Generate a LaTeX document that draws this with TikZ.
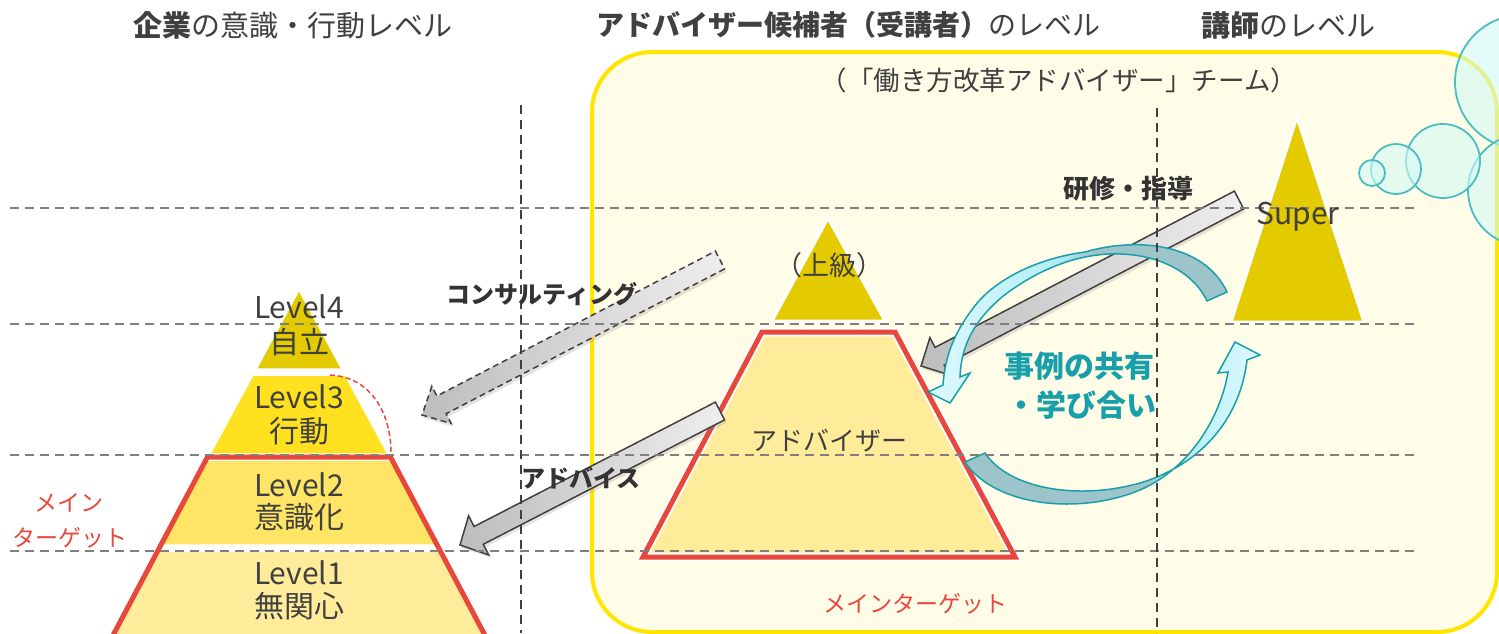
\documentclass[tikz,border=0pt]{standalone}
\usepackage{fontspec}
\setmainfont{Noto Sans CJK JP}
\usetikzlibrary{calc,shadows}

\definecolor{ink}{HTML}{404040}
\definecolor{inkbold}{HTML}{333333}
\definecolor{guidegray}{HTML}{7F7F7F}
\definecolor{axisgray}{HTML}{404040}
\definecolor{teamfill}{HTML}{FFFCE8}
\definecolor{teamline}{HTML}{FFE500}
\definecolor{lvA}{HTML}{E3CB00}
\definecolor{lvB}{HTML}{FFE11F}
\definecolor{lvC}{HTML}{FFE566}
\definecolor{lvD}{HTML}{FFEC9A}
\definecolor{target}{HTML}{E8473B}
\definecolor{teal}{HTML}{18A0AA}
\definecolor{cyanlight}{HTML}{DDF9FE}
\definecolor{cyanmid}{HTML}{B5EDF7}
\definecolor{tealgray}{HTML}{9DC4CA}
\definecolor{bubbleline}{HTML}{4BBEC1}
\definecolor{bubblefill}{HTML}{D2FAF4}
\definecolor{arrowdark}{HTML}{BDBDBD}
\definecolor{arrowlight}{HTML}{EEEEEE}

% ribbon shadings for the two curved arrows (tail: grey-teal, head: light cyan)
\pgfdeclarehorizontalshading{loopupper}{100bp}{color(0bp)=(cyanlight); color(25bp)=(cyanlight); color(46bp)=(cyanmid); color(53bp)=(tealgray); color(100bp)=(tealgray)}
\pgfdeclarehorizontalshading{looplower}{100bp}{color(0bp)=(tealgray); color(56bp)=(tealgray); color(61bp)=(cyanmid); color(75bp)=(cyanlight); color(100bp)=(cyanlight)}

\tikzset{
  hguide/.style={draw=guidegray, line width=1.8pt, dash pattern=on 9pt off 6pt},
  vguide/.style={draw=axisgray, line width=1.6pt, dash pattern=on 9pt off 6pt},
  band/.style={fill=#1, draw=white, line width=1.5pt},
  redframe/.style={draw=target, line width=5pt, line join=miter},
  grayarrow/.style={left color=arrowdark, right color=arrowlight, draw=ink,
    line width=1.5pt, line join=miter,
    drop shadow={shadow xshift=2pt, shadow yshift=-3pt, opacity=0.22}},
  ribbon/.style={shading=#1, draw=teal, line width=1.5pt, line join=miter},
  bubble/.style={draw=bubbleline, line width=1.8pt, fill=bubblefill, fill opacity=0.6},
  headtxt/.style={text=ink, inner sep=0pt, font=\fontsize{29}{31}\selectfont},
  teamtxt/.style={text=ink, inner sep=0pt, font=\fontsize{26.5}{28}\selectfont},
  lvltxt/.style={text=ink, inner sep=0pt, font=\fontsize{30}{32}\selectfont},
  midtxt/.style={text=ink, inner sep=0pt, font=\fontsize{26}{28}\selectfont},
  redtxt/.style={text=target, inner sep=0pt, font=\fontsize{23}{25}\selectfont},
  actiontxt/.style={text=inkbold, inner sep=0pt, font=\fontsize{24}{26}\selectfont\bfseries},
  tealtxt/.style={text=teal, inner sep=0pt, font=\fontsize{30}{32}\selectfont\bfseries},
}

% straight block arrow: style, tail, tip, half shaft width, half head width, head length
\newcommand\blockarrow[6]{%
  \coordinate (hb) at ($(#3)!#6!(#2)$);
  \path[#1] ($(#2)!#4!90:(#3)$) -- ($(hb)!#4!90:(#3)$) -- ($(hb)!#5!90:(#3)$) -- (#3)
    -- ($(hb)!#5!-90:(#3)$) -- ($(hb)!#4!-90:(#3)$) -- ($(#2)!#4!-90:(#3)$) -- cycle;
}

\begin{document}
\begin{tikzpicture}[x=1pt,y=-1pt]
\useasboundingbox (0,0) rectangle (1499,633);
\fill[white] (0,0) rectangle (1499,633);

% team frame
\draw[fill=teamfill, draw=teamline, line width=4pt, rounded corners=60pt]
  (592,52) rectangle (1497,632);

% bubbles
\draw[bubble] (1522,82) circle[radius=67];
\draw[bubble] (1524,190) circle[radius=56];
\draw[bubble] (1443,161) circle[radius=37];
\draw[bubble] (1396,169) circle[radius=25];
\draw[bubble] (1372,173) circle[radius=13];

% company pyramid
\path[band=lvA] (299,290) -- (256.2,369) -- (341.8,369) -- cycle;
\path[band=lvB] (252.9,375) -- (345.1,375) -- (387.9,454) -- (210.1,454) -- cycle;
\path[band=lvC] (206.9,460) -- (391.1,460) -- (437.2,545) -- (160.8,545) -- cycle;
\path[band=lvD] (157.5,551) -- (440.5,551) -- (488.7,640) -- (109.3,640) -- cycle;
\draw[redframe] (207.5,457) -- (390.5,457) -- (488,641) -- (110,641) -- cycle;
\draw[target, line width=1.5pt, dash pattern=on 5pt off 3pt]
  (330,375) .. controls (372,377) and (392,415) .. (391,456);

% adviser pyramid
\path[band=lvA, line width=3pt] (828,218) -- (885,321) -- (772,321) -- cycle;
\path[fill=lvD, draw=white, line width=9pt, line join=miter]
  (762,332) -- (895,332) -- (1015,557) -- (643,557) -- cycle;
\draw[redframe] (762,332) -- (895,332) -- (1015,557) -- (643,557) -- cycle;

% lecturer pyramid
\path[band=lvA, line width=3pt] (1297,117) -- (1364,322) -- (1231,322) -- cycle;

% straight arrows
\coordinate (consultTail) at (720,260);
\coordinate (consultTip) at (422,415);
\coordinate (adviceTail) at (720,411);
\coordinate (adviceTip) at (460,545);
\coordinate (trainTail) at (1239,200);
\coordinate (trainTip) at (921,366);
\blockarrow{grayarrow, dash pattern=on 6pt off 4pt}{consultTail}{consultTip}{10pt}{21pt}{22pt}
\blockarrow{grayarrow}{adviceTail}{adviceTip}{10pt}{22pt}{21pt}
\blockarrow{grayarrow}{trainTail}{trainTip}{10pt}{21pt}{21pt}

% curved arrows (sharing of cases / learning together)
\path[ribbon=loopupper]
  (1207,301) -- (1227,292)
  .. controls (1205,245) and (1140,236) .. (1085,252)
  .. controls (1040,258) and (1000,277) .. (978,302)
  .. controls (955,330) and (945,355) .. (943,385)
  -- (928,392) -- (950,403) -- (970,373) -- (960,377)
  .. controls (961,345) and (975,320) .. (1002,297)
  .. controls (1030,275) and (1060,262) .. (1085,257)
  .. controls (1140,246) and (1190,265) .. (1207,301) -- cycle;
\path[ribbon=looplower]
  (985,453) -- (965,462)
  .. controls (995,507) and (1080,515) .. (1140,490)
  .. controls (1195,466) and (1222,410) .. (1228,372)
  -- (1218,373) -- (1235,342) -- (1260,355) -- (1247,360)
  .. controls (1240,420) and (1200,465) .. (1140,483)
  .. controls (1080,500) and (1010,490) .. (985,453) -- cycle;

% level guides
\foreach \gy in {208,324,455,551}
  \draw[hguide] (10,\gy) -- (1418,\gy);
\draw[vguide] (521,105) -- (521,633);
\draw[vguide] (1157,108) -- (1157,633);

% headings
\node[headtxt] (hCompany) at (293,25) {{\bfseries 企業}の意識・行動レベル};
\node[headtxt, font=\fontsize{28}{30}\selectfont] (hAdviser) at (848,25) {{\bfseries アドバイザー候補者（受講者）}のレベル};
\node[headtxt] (hLecturer) at (1288,25) {{\bfseries 講師}のレベル};
\node[teamtxt] (hTeam) at (1059,80) {（「働き方改革アドバイザー」チーム）};

% company levels
\node[lvltxt] (l4a) at (299,307) {Level4};
\node[lvltxt] (l4b) at (299,342) {自立};
\node[lvltxt] (l3a) at (299,397) {Level3};
\node[lvltxt] (l3b) at (299,431) {行動};
\node[lvltxt] (l2a) at (299,485) {Level2};
\node[lvltxt] (l2b) at (299,517) {意識化};
\node[lvltxt] (l1a) at (299,573) {Level1};
\node[lvltxt] (l1b) at (299,606) {無関心};
\node[redtxt] (mainL1) at (69,503) {メイン};
\node[redtxt] (mainL2) at (70,538) {ターゲット};

% adviser and lecturer labels
\node[midtxt, font=\fontsize{27}{29}\selectfont] (senior) at (829,265) {（上級）};
\node[midtxt] (adviser) at (829,441) {アドバイザー};
\node[redtxt] (mainM) at (915,604) {メインターゲット};
\node[lvltxt] (super) at (1298,217) {Super};

% arrow captions
\node[actiontxt] (capConsult) at (542,294) {コンサルティング};
\node[actiontxt] (capAdvice) at (581,478) {アドバイス};
\node[actiontxt, font=\fontsize{26}{28}\selectfont\bfseries] (capTrain) at (1128,189) {研修・指導};
\node[tealtxt] (share1) at (1079,366) {事例の共有};
\node[tealtxt] (share2) at (1081,405) {・学び合い};
\end{tikzpicture}
\end{document}
